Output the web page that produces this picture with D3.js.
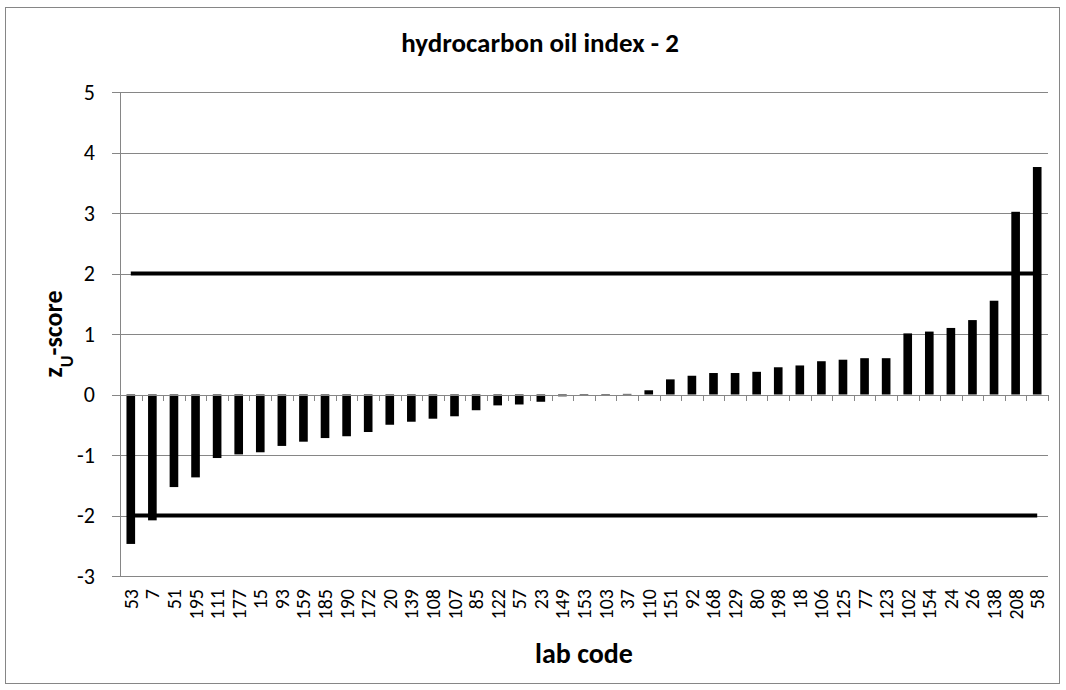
<!DOCTYPE html>
<html>
<head>
<meta charset="utf-8">
<script src="https://cdn.jsdelivr.net/npm/d3@7"></script>
<style>
  body { margin: 0; background: #fff; }
  svg text { font-family: Carlito, "Open Sans", "Liberation Sans", sans-serif; fill: #000; }
</style>
</head>
<body>
<div id="chart"></div>
<script>
// data
const labCodes = ["53", "7", "51", "195", "111", "177", "15", "93", "159", "185",
  "190", "172", "20", "139", "108", "107", "85", "122", "57", "23",
  "149", "153", "103", "37", "110", "151", "92", "168", "129", "80",
  "198", "18", "106", "125", "77", "123", "102", "154", "24", "26",
  "138", "208", "58"];
const zScores = [-2.47, -2.08, -1.53, -1.37, -1.05, -0.99, -0.955, -0.85, -0.78, -0.72,
  -0.69, -0.62, -0.50, -0.45, -0.40, -0.36, -0.26, -0.18, -0.165, -0.12,
  -0.03, -0.02, -0.01, 0.01, 0.07, 0.25, 0.31, 0.355, 0.355, 0.375,
  0.45, 0.48, 0.55, 0.575, 0.60, 0.60, 1.01, 1.04, 1.10, 1.23,
  1.55, 3.02, 3.76];
const limits = [2, -2];
const yTicks = [-3, -2, -1, 0, 1, 2, 3, 4, 5];

const width = 1066, height = 690;
const margin = { top: 92, right: 18, bottom: 114, left: 120 };
const innerW = width - margin.left - margin.right;
const innerH = height - margin.top - margin.bottom;

const svg = d3.select("#chart").append("svg")
  .attr("width", width).attr("height", height);

// outer chart border
svg.append("rect")
  .attr("x", 5.5).attr("y", 7.5)
  .attr("width", 1054).attr("height", 676)
  .attr("fill", "none").attr("stroke", "#868686").attr("stroke-width", 1);

const g = svg.append("g").attr("transform", `translate(${margin.left},${margin.top})`);

const x = d3.scaleBand().domain(labCodes).range([0, innerW]).paddingInner(0.6).paddingOuter(0.3);
const y = d3.scaleLinear().domain([-3, 5]).range([innerH, 0]);

// gridlines (with the small tick sticking out left of the axis)
g.selectAll(".grid").data(yTicks).join("line")
  .attr("class", "grid")
  .attr("x1", -8).attr("x2", innerW)
  .attr("y1", d => Math.round(y(d)) + 0.5).attr("y2", d => Math.round(y(d)) + 0.5)
  .attr("stroke", "#868686").attr("stroke-width", 1);

// y axis line
g.append("line")
  .attr("x1", 0.5).attr("x2", 0.5).attr("y1", 0).attr("y2", innerH)
  .attr("stroke", "#868686");

// y tick labels
g.selectAll(".ylab").data(yTicks).join("text")
  .attr("class", "ylab")
  .attr("x", -25).attr("y", d => y(d))
  .attr("dy", "0.35em").attr("text-anchor", "end")
  .style("font-size", "22px")
  .text(d => d);

// bars
g.selectAll(".bar").data(zScores).join("rect")
  .attr("class", "bar")
  .attr("x", (d, i) => x(labCodes[i]))
  .attr("width", x.bandwidth())
  .attr("y", d => y(Math.max(0, d)))
  .attr("height", d => Math.abs(y(d) - y(0)))
  .attr("fill", "#000");

// x axis at zero
g.append("line")
  .attr("x1", 0).attr("x2", innerW)
  .attr("y1", Math.round(y(0)) + 0.5).attr("y2", Math.round(y(0)) + 0.5)
  .attr("stroke", "#868686");
g.selectAll(".xtick").data(d3.range(labCodes.length + 1)).join("line")
  .attr("class", "xtick")
  .attr("x1", i => Math.round(i * innerW / labCodes.length) + 0.5)
  .attr("x2", i => Math.round(i * innerW / labCodes.length) + 0.5)
  .attr("y1", Math.round(y(0))).attr("y2", Math.round(y(0)) + 6)
  .attr("stroke", "#868686");

// limit lines
g.selectAll(".limit").data(limits).join("line")
  .attr("class", "limit")
  .attr("x1", x(labCodes[0]) + x.bandwidth() / 2)
  .attr("x2", x(labCodes[labCodes.length - 1]) + x.bandwidth() / 2)
  .attr("y1", d => y(d)).attr("y2", d => y(d))
  .attr("stroke", "#000").attr("stroke-width", 4);

// x tick labels (rotated)
g.selectAll(".xlab").data(labCodes).join("text")
  .attr("class", "xlab")
  .attr("transform", d => `translate(${x(d) + x.bandwidth() / 2},${innerH + 13}) rotate(-90)`)
  .attr("dy", "0.35em").attr("text-anchor", "end")
  .style("font-size", "20px")
  .text(d => d);

// titles
svg.append("text")
  .attr("x", 540).attr("y", 52)
  .attr("text-anchor", "middle")
  .style("font-size", "27px").style("font-weight", "bold")
  .text("hydrocarbon oil index - 2");

svg.append("text")
  .attr("x", margin.left + innerW / 2).attr("y", 663)
  .attr("text-anchor", "middle")
  .style("font-size", "28px").style("font-weight", "bold")
  .text("lab code");

const yt = svg.append("text")
  .attr("transform", `translate(62,${margin.top + innerH / 2}) rotate(-90)`)
  .attr("text-anchor", "middle")
  .style("font-size", "26px").style("font-weight", "bold");
yt.append("tspan").text("z");
yt.append("tspan").attr("baseline-shift", "sub").style("font-size", "18px").text("U");
yt.append("tspan").attr("baseline-shift", "0").text("-score");
</script>
</body>
</html>
